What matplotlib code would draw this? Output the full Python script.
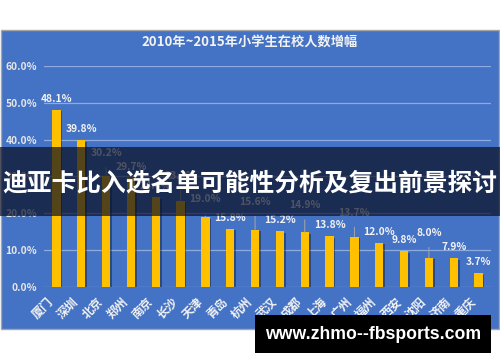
import matplotlib
matplotlib.use('Agg')
import matplotlib.pyplot as plt
import matplotlib.patheffects as pe
from matplotlib.patches import Rectangle

plt.rcParams['font.family'] = ['Noto Sans CJK SC', 'DejaVu Sans']

# data
cities = ['厦门', '深圳', '北京', '郑州', '南京', '长沙', '天津', '青岛', '杭州',
          '武汉', '成都', '上海', '广州', '福州', '西安', '沈阳', '济南', '重庆']
growth = [48.1, 39.8, 30.2, 29.7, 24.4, 23.3, 19.0, 15.8, 15.6,
          15.2, 14.9, 13.8, 13.7, 12.0, 9.8, 8.0, 7.9, 3.7]
y_ticks = [0, 10, 20, 30, 40, 50, 60]

title = '2010年~2015年小学生在校人数增幅'
banner = '迪亚卡比入选名单可能性分析及复出前景探讨'
watermark = 'www.zhmo--fbsports.com'

# some labels sit higher with a leader line (pixel lift above bar top)
label_lift = {2: 23, 5: 25, 6: 18, 8: 28, 10: 27, 12: 24, 15: 25}
normal_lift = 11

fig = plt.figure(figsize=(5, 3.62), dpi=100)
fig.patch.set_facecolor('white')

# blue chart frame
fig.patches.append(Rectangle((0.002, 0.0912), 0.996, 0.826, transform=fig.transFigure,
                             facecolor='#4472C4', edgecolor='#A6A6A6', lw=1, zorder=0))

ax = fig.add_axes([0.088, 0.2072, 0.894, 0.6105])
ax.set_zorder(1)
ax.set_facecolor('none')

x = list(range(len(cities)))
bars = ax.bar(x, growth, width=0.33, color='#FFC000', zorder=3)
for b in bars:
    b.set_path_effects([pe.SimplePatchShadow(offset=(1.2, -1.2), shadow_rgbFace='black', alpha=0.35),
                        pe.Normal()])

ax.set_xlim(-0.5, len(cities) - 0.5)
ax.set_ylim(0, 60)
ax.set_yticks(y_ticks)
ax.set_yticklabels([f'{t:.1f}%' for t in y_ticks])
ax.yaxis.grid(True, color='#8FAADC', lw=0.9, zorder=1)
ax.set_axisbelow(True)
for s in ax.spines.values():
    s.set_visible(False)
ax.tick_params(axis='y', length=0, pad=5, labelsize=7.4, labelcolor='#E6E6E6')
ax.tick_params(axis='x', length=0, pad=6)
for t in ax.get_yticklabels():
    t.set_fontweight('bold')
ax.set_xticks(x)
ax.set_xticklabels(cities, rotation=45, ha='right', va='top', fontsize=8.6,
                   color='#F2F2F2', fontweight='bold', rotation_mode='default')

for i, v in enumerate(growth):
    lift = label_lift.get(i, normal_lift)
    props = None
    if i in label_lift:
        props = dict(arrowstyle='-', color='#A6A6A6', lw=0.7, shrinkA=5, shrinkB=0)
    ax.annotate(f'{v:.1f}%', xy=(i, v), xytext=(0, lift * 0.72), textcoords='offset points',
                ha='center', va='center', fontsize=7.4, fontweight='bold', color='#F2F2F2',
                arrowprops=props, zorder=4)

fig.text(0.5, 0.881, title, ha='center', va='center', fontsize=9.5, fontweight='bold',
         color='#F2F2F2')

# dark overlay banner
fig.patches.append(Rectangle((0, 0.4033), 1, 0.1906, transform=fig.transFigure,
                             facecolor='#0A0F24', alpha=0.7, lw=0, zorder=5))
fig.text(0.5, 0.4945, banner, ha='center', va='center', fontsize=17.8, fontweight='bold',
         color='white', zorder=6)

# watermark
fig.patches.append(Rectangle((0.51, 0.0249), 0.472, 0.105, transform=fig.transFigure,
                             facecolor='black', lw=0, zorder=5))
fig.text(0.746, 0.0773, watermark, ha='center', va='center', fontsize=12.7,
         fontweight='bold', color='white', family='Liberation Sans', zorder=6)

fig.savefig('out.png', dpi=100)
